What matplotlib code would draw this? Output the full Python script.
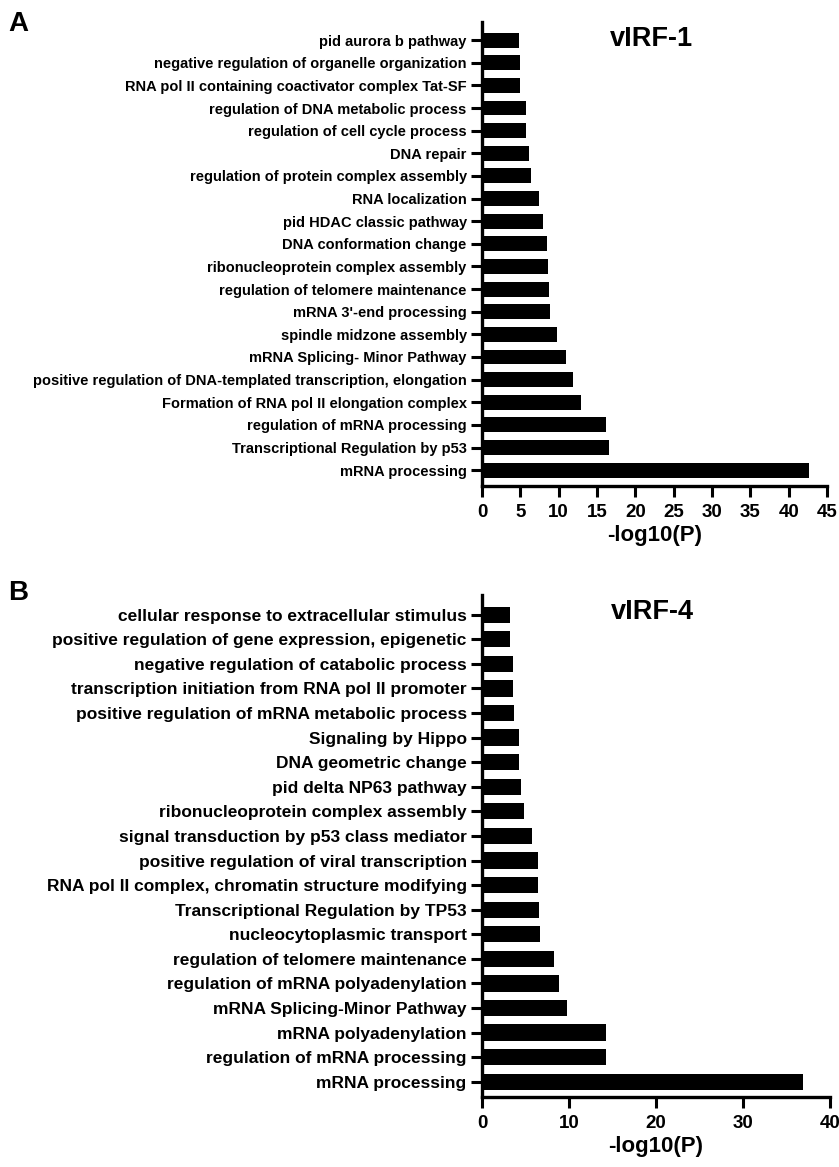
import matplotlib.pyplot as plt
import numpy as np

plt.rcParams['font.family'] = ['Liberation Sans', 'DejaVu Sans']
plt.rcParams['font.weight'] = 'bold'

# panel A: vIRF-1
terms_a = ['pid aurora b pathway',
           'negative regulation of organelle organization',
           'RNA pol II containing coactivator complex Tat-SF',
           'regulation of DNA metabolic process',
           'regulation of cell cycle process',
           'DNA repair',
           'regulation of protein complex assembly',
           'RNA localization',
           'pid HDAC classic pathway',
           'DNA conformation change',
           'ribonucleoprotein complex assembly',
           'regulation of telomere maintenance',
           "mRNA 3'-end processing",
           'spindle midzone assembly',
           'mRNA Splicing- Minor Pathway',
           'positive regulation of DNA-templated transcription, elongation',
           'Formation of RNA pol II elongation complex',
           'regulation of mRNA processing',
           'Transcriptional Regulation by p53',
           'mRNA processing']
vals_a = [4.8, 4.9, 4.9, 5.7, 5.8, 6.1, 6.4, 7.4, 7.9, 8.5,
          8.6, 8.7, 8.9, 9.8, 10.9, 11.9, 12.9, 16.2, 16.5, 42.7]

# panel B: vIRF-4
terms_b = ['cellular response to extracellular stimulus',
           'positive regulation of gene expression, epigenetic',
           'negative regulation of catabolic process',
           'transcription initiation from RNA pol II promoter',
           'positive regulation of mRNA metabolic process',
           'Signaling by Hippo',
           'DNA geometric change',
           'pid delta NP63 pathway',
           'ribonucleoprotein complex assembly',
           'signal transduction by p53 class mediator',
           'positive regulation of viral transcription',
           'RNA pol II complex, chromatin structure modifying',
           'Transcriptional Regulation by TP53',
           'nucleocytoplasmic transport',
           'regulation of telomere maintenance',
           'regulation of mRNA polyadenylation',
           'mRNA Splicing-Minor Pathway',
           'mRNA polyadenylation',
           'regulation of mRNA processing',
           'mRNA processing']
vals_b = [3.2, 3.2, 3.6, 3.6, 3.7, 4.2, 4.3, 4.45, 4.8, 5.8,
          6.45, 6.45, 6.5, 6.7, 8.3, 8.8, 9.8, 14.3, 14.3, 36.9]

W, H = 839, 1167
fig = plt.figure(figsize=(W / 100, H / 100), dpi=100)


def panel(x0, x1, y0, y1, terms, vals, xmax, step, title, letter, letter_y,
          label_fs, top_pad, bot_pad):
    ax = fig.add_axes([x0 / W, 1 - y1 / H, (x1 - x0) / W, (y1 - y0) / H])
    y = np.arange(len(terms))
    ax.barh(y, vals, height=0.66, color='black')
    ax.set_ylim(len(terms) - 1 + bot_pad, -top_pad)
    ax.set_xlim(0, xmax)
    ax.set_yticks(y)
    ax.set_yticklabels(terms, fontsize=label_fs, fontweight='bold')
    ax.set_xticks(np.arange(0, xmax + 1, step))
    ax.tick_params(axis='x', labelsize=13.5, width=2.2, length=8, pad=5)
    ax.tick_params(axis='y', width=2.2, length=8, pad=3)
    for s in ['top', 'right']:
        ax.spines[s].set_visible(False)
    for s in ['left', 'bottom']:
        ax.spines[s].set_linewidth(2.4)
    ax.set_xlabel('-log10(P)', fontsize=16, fontweight='bold', labelpad=3)
    ax.text(0.49, 1 - 17 / (y1 - y0), title, transform=ax.transAxes,
            fontsize=19.5, fontweight='bold', ha='center', va='center')
    fig.text(8 / W, 1 - letter_y / H, letter, fontsize=20, fontweight='bold',
             ha='left', va='center')
    return ax


panel(482, 827, 22, 486, terms_a, vals_a, 45, 5, 'vIRF-1', 'A', 24, 10.5, 0.8, 0.7)
panel(482, 830, 595, 1097, terms_b, vals_b, 40, 10, 'vIRF-4', 'B', 593, 12.5, 0.8, 0.62)

fig.savefig('out.png', dpi=100)
